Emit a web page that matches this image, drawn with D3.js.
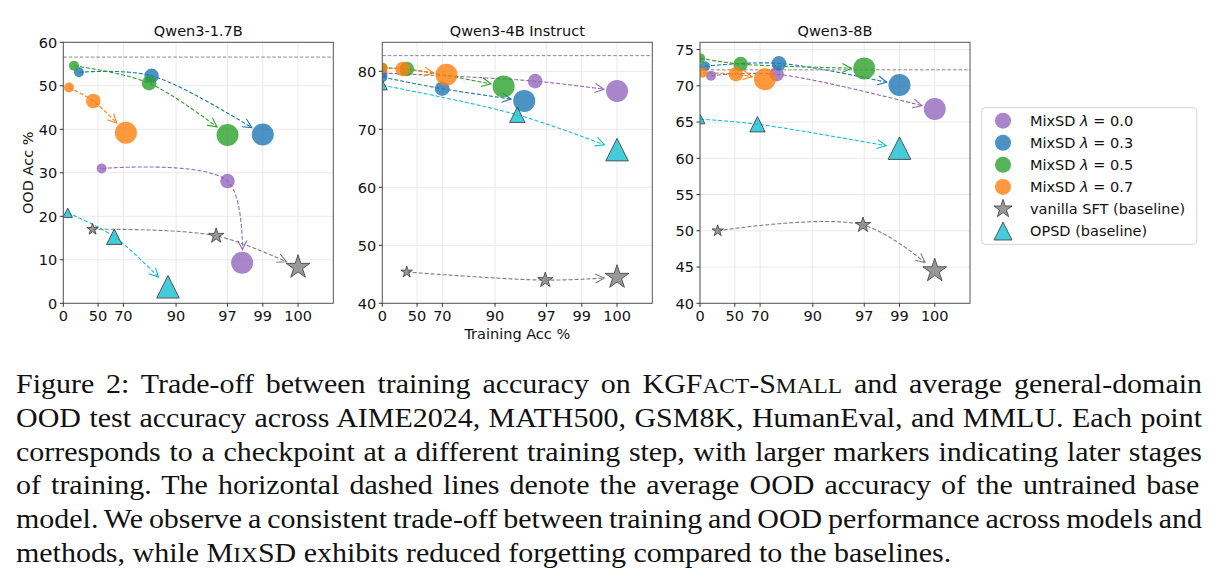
<!DOCTYPE html>
<html>
<head>
<meta charset="utf-8">
<script src="https://cdn.jsdelivr.net/npm/d3@7"></script>
<style>
  body { margin: 0; background: #fff; }
  text { font-family: "DejaVu Sans", sans-serif; }
</style>
</head>
<body>
<script>
// ---- data ----
const models = ["Qwen3-1.7B", "Qwen3-4B Instruct", "Qwen3-8B"];
const lambdas = ["0.0", "0.3", "0.5", "0.7"];
const baselineNames = ["vanilla SFT (baseline)", "OPSD (baseline)"];
const xTicks = [0, 50, 70, 90, 97, 99, 100];
const baseOod = [56.6, 82.7, 72.2];
const yDomains = [[0, 60], [40, 85], [40, 76]];
const yTicks17 = [0, 10, 20, 30, 40, 50, 60];
const yTicks4 = [40, 50, 60, 70, 80];
const yTicks8 = [40, 45, 50, 55, 60, 65, 70, 75];

// rows: lambda 0.0, 0.3, 0.5, 0.7, vanilla SFT, OPSD ; three checkpoints each
const train17 = [[53.5, 97.0, 98.0], [26.8, 83.2, 99.0], [19.2, 82.3, 97.0], [10.7, 45.0, 71.5], [44.2, 96.0, 100], [8.4, 63.9, 88.1]];
const ood17   = [[31.0, 28.1, 9.3], [53.1, 52.3, 38.8], [54.6, 50.6, 38.7], [49.6, 46.5, 39.2], [17.0, 15.5, 8.3], [20.8, 15.3, 3.8]];
const train4  = [[0.5, 96.0, 100], [0.5, 69.9, 94.8], [0.5, 38.5, 91.7], [0.5, 33.4, 72.4], [38.5, 96.9, 100], [0.5, 93.9, 100]];
const ood4    = [[79.7, 78.3, 76.6], [79.0, 77.0, 74.9], [80.6, 80.4, 77.4], [80.5, 80.4, 79.4], [45.4, 44.0, 44.5], [77.6, 72.5, 66.5]];
const train8  = [[19.7, 78.6, 100], [9.5, 79.6, 99.0], [0.5, 55.6, 97.0], [5.0, 51.2, 72.8], [29.7, 96.9, 100], [0.5, 68.4, 99.0]];
const ood8    = [[71.4, 71.6, 66.8], [72.7, 73.1, 70.1], [73.8, 73.0, 72.4], [71.8, 71.6, 70.9], [50.0, 50.8, 44.5], [65.4, 64.7, 61.4]];

const captionLines = [
  [["Figure 2: Trade-off between training accuracy on KGF"], ["ACT", 1], ["-S"], ["MALL", 1], [" and average general-domain"]],
  [["OOD test accuracy across AIME2024, MATH500, GSM8K, HumanEval, and MMLU. Each point"]],
  [["corresponds to a checkpoint at a different training step, with larger markers indicating later stages"]],
  [["of training.  The horizontal dashed lines denote the average OOD accuracy of the untrained base"]],
  [["model. We observe a consistent trade-off between training and OOD performance across models and"]],
  [["methods, while M"], ["IX", 1], ["SD exhibits reduced forgetting compared to the baselines."]]
];

// ---- style ----
const colors = ["#9467bd", "#1f77b4", "#2ca02c", "#ff7f0e", "#808080", "#17becf"];
const circleR = [5, 7.3, 11];
const starR = [6, 8, 12.5];
const triR = [4.7, 7.7, 11.3];

const W = 1219, H = 581;
const pw = 270, plotTop = 42.3, plotBottom = 303.3;
const lefts = [63.3, 382.3, 700];

const svg = d3.select("body").append("svg").attr("width", W).attr("height", H);

function starPath(r) {
  const ri = r * 0.381966;
  const pts = d3.range(10).map(i => {
    const a = -Math.PI / 2 + i * Math.PI / 5;
    const rr = i % 2 ? ri : r;
    return [rr * Math.cos(a), rr * Math.sin(a)];
  });
  return "M" + pts.map(p => p.join(",")).join("L") + "Z";
}
function triPath(r) {
  return `M0,${-r}L${r},${r}L${-r},${r}Z`;
}
function drawMarker(g, kind, r, x, y, color) {
  if (kind < 4) {
    g.append("circle").attr("cx", x).attr("cy", y).attr("r", r)
      .attr("fill", color).attr("fill-opacity", 0.8);
  } else {
    g.append("path").attr("d", kind === 4 ? starPath(r) : triPath(r))
      .attr("transform", `translate(${x},${y})`)
      .attr("fill", color).attr("fill-opacity", 0.8)
      .attr("stroke", "#3a3a3a").attr("stroke-width", 0.8);
  }
}

function drawArrow(g, pts, color, shrink) {
  const tmp = g.append("path")
    .attr("d", d3.line().curve(d3.curveCatmullRom.alpha(0.5))(pts))
    .attr("fill", "none");
  const node = tmp.node();
  const L = node.getTotalLength();
  const end = pts[pts.length - 1];
  let Lc = L;
  while (Lc > 0) {
    const p = node.getPointAtLength(Lc);
    if (Math.hypot(p.x - end[0], p.y - end[1]) >= shrink) break;
    Lc -= 0.25;
  }
  const samples = [];
  for (let s = 0; s < Lc; s += 1) {
    const p = node.getPointAtLength(s);
    samples.push([p.x, p.y]);
  }
  const tip = node.getPointAtLength(Lc);
  samples.push([tip.x, tip.y]);
  const back = node.getPointAtLength(Math.max(0, Lc - 3));
  tmp.remove();
  g.append("path").attr("d", d3.line()(samples))
    .attr("fill", "none").attr("stroke", color).attr("stroke-width", 1.1)
    .attr("stroke-dasharray", "4,2");
  let dx = tip.x - back.x, dy = tip.y - back.y;
  const len = Math.hypot(dx, dy) || 1;
  dx /= len; dy /= len;
  const hl = 9, hw = 4.5;
  const bx = tip.x - dx * hl, by = tip.y - dy * hl;
  g.append("path")
    .attr("d", `M${bx - dy * hw},${by + dx * hw}L${tip.x},${tip.y}L${bx + dy * hw},${by - dx * hw}`)
    .attr("fill", "none").attr("stroke", color).attr("stroke-width", 1.1);
}

const trains = [train17, train4, train8];
const oods = [ood17, ood4, ood8];
const yTickSets = [yTicks17, yTicks4, yTicks8];

models.forEach((name, pi) => {
  const x0 = lefts[pi];
  const g = svg.append("g").attr("transform", `translate(${x0},0)`);
  const xs = d3.scaleLog().domain([101, 0.5]).range([0, pw]);
  const x = v => xs(101 - v);
  const y = d3.scaleLinear().domain(yDomains[pi]).range([plotBottom, plotTop]);

  // grid
  g.append("g").selectAll("line").data(xTicks).join("line")
    .attr("x1", d => x(d)).attr("x2", d => x(d)).attr("y1", plotTop).attr("y2", plotBottom)
    .attr("stroke", "#e8e8e8").attr("stroke-width", 0.9);
  g.append("g").selectAll("line").data(yTickSets[pi]).join("line")
    .attr("x1", 0).attr("x2", pw).attr("y1", d => y(d)).attr("y2", d => y(d))
    .attr("stroke", "#e8e8e8").attr("stroke-width", 0.9);

  // untrained base model
  g.append("line").attr("x1", 0).attr("x2", pw)
    .attr("y1", y(baseOod[pi])).attr("y2", y(baseOod[pi]))
    .attr("stroke", "#888").attr("stroke-width", 1).attr("stroke-dasharray", "3.5,2");

  const clipId = "clip" + pi;
  g.append("clipPath").attr("id", clipId).append("rect")
    .attr("x", 0).attr("y", plotTop).attr("width", pw).attr("height", plotBottom - plotTop);
  const data = g.append("g").attr("clip-path", `url(#${clipId})`);

  const tr = trains[pi], od = oods[pi];
  // arrows first
  tr.forEach((row, si) => {
    const pts = row.map((v, k) => [x(v), y(od[si][k])]);
    const rLast = si < 4 ? circleR[2] : si === 4 ? starR[2] * 0.85 : triR[2];
    drawArrow(data, pts, colors[si], rLast + 2);
  });
  // markers
  tr.forEach((row, si) => {
    const sizes = si < 4 ? circleR : si === 4 ? starR : triR;
    row.forEach((v, k) => drawMarker(data, si, sizes[k], x(v), y(od[si][k]), colors[si]));
  });

  // spines
  g.append("rect").attr("x", 0).attr("y", plotTop).attr("width", pw).attr("height", plotBottom - plotTop)
    .attr("fill", "none").attr("stroke", "#555").attr("stroke-width", 1);

  const xt = g.append("g");
  xTicks.forEach(t => {
    xt.append("line").attr("x1", x(t)).attr("x2", x(t)).attr("y1", plotBottom).attr("y2", plotBottom + 3.5)
      .attr("stroke", "#333");
    xt.append("text").attr("x", x(t)).attr("y", plotBottom + 18).attr("text-anchor", "middle")
      .attr("font-size", 14.5).attr("fill", "#111").text(t);
  });
  const yt = g.append("g");
  yTickSets[pi].forEach(t => {
    yt.append("line").attr("x1", -3.5).attr("x2", 0).attr("y1", y(t)).attr("y2", y(t))
      .attr("stroke", "#333");
    yt.append("text").attr("x", -6).attr("y", y(t)).attr("dy", "0.36em").attr("text-anchor", "end")
      .attr("font-size", 14.5).attr("fill", "#111").text(t);
  });

  g.append("text").attr("x", pw / 2).attr("y", 36).attr("text-anchor", "middle")
    .attr("font-size", 14.5).attr("fill", "#111").text(name);
});

svg.append("text").attr("x", lefts[1] + pw / 2).attr("y", 338.5).attr("text-anchor", "middle")
  .attr("font-size", 14.5).attr("fill", "#111").text("Training Acc %");
svg.append("text").attr("transform", `translate(33,172.8) rotate(-90)`).attr("text-anchor", "middle")
  .attr("font-size", 14.5).attr("fill", "#111").text("OOD Acc %");

// legend
const lg = svg.append("g");
lg.append("rect").attr("x", 981.7).attr("y", 107.7).attr("width", 215).attr("height", 136.6)
  .attr("rx", 3).attr("fill", "#fff").attr("stroke", "#d5d5d5").attr("stroke-width", 1);
const legendR = [8, 8, 8, 8, 9.6, 9];
for (let i = 0; i < 6; i++) {
  const cy = 120.7 + i * 22.06;
  drawMarker(lg, i, legendR[i], 1003, cy, colors[i]);
  const t = lg.append("text").attr("x", 1030).attr("y", cy).attr("dy", "0.36em")
    .attr("font-size", 14.5).attr("fill", "#111");
  if (i < 4) {
    t.append("tspan").text("MixSD ");
    t.append("tspan").attr("font-style", "italic").text("λ");
    t.append("tspan").text(" = " + lambdas[i]);
  } else {
    t.text(baselineNames[i - 4]);
  }
}

// caption (the figure's text is wider than tall, so stretch horizontally)
const capFont = 27, capLeft = 16, capRight = 1202, capStretch = 1.11;
captionLines.forEach((segs, li) => {
  const t = svg.append("text")
    .attr("transform", `translate(${capLeft},${393 + li * 33.8}) scale(${capStretch},1)`)
    .style("font-family", '"Liberation Serif", "Times New Roman", serif')
    .attr("font-size", capFont).attr("fill", "#111");
  let full = "";
  segs.forEach(([s, sc]) => {
    const sp = t.append("tspan").text(sc ? s.toUpperCase() : s);
    if (sc) sp.attr("font-size", capFont * 0.78);
    full += s;
  });
  if (li < captionLines.length - 1) {
    const nat = t.node().getComputedTextLength();
    const spaces = (full.match(/ /g) || []).length;
    t.attr("word-spacing", ((capRight - capLeft) / capStretch - nat) / spaces);
  }
});
</script>
</body>
</html>
